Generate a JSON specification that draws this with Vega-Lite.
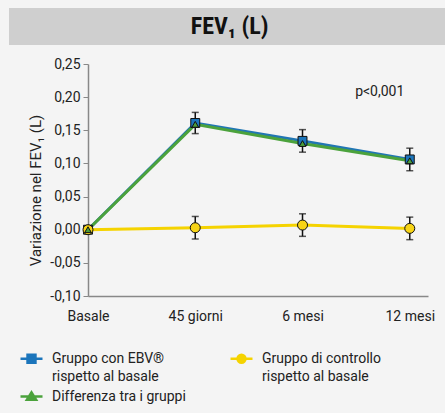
{
  "$schema": "https://vega.github.io/schema/vega-lite/v6.json",
  "background": "#f4f4f4",
  "padding": {"left": 9, "top": 8, "right": 0, "bottom": 8},
  "config": {
    "font": "Roboto",
    "locale": {"number": {"decimal": ",", "thousands": ".", "grouping": [3], "currency": ["", " €"], "minus": "-"}},
    "view": {"stroke": null}
  },
  "spacing": 12,
  "resolve": {
    "scale": {"fill": "independent", "stroke": "independent", "shape": "independent", "x": "independent"},
    "legend": {"fill": "independent", "stroke": "independent", "shape": "independent"}
  },
  "datasets": {
    "main": [
      {"series": "Gruppo con EBV® rispetto al basale", "t": 0, "v": 0},
      {"series": "Gruppo con EBV® rispetto al basale", "t": 1, "v": 0.161, "lo": 0.145, "hi": 0.177},
      {"series": "Gruppo con EBV® rispetto al basale", "t": 2, "v": 0.134, "lo": 0.117, "hi": 0.151},
      {"series": "Gruppo con EBV® rispetto al basale", "t": 3, "v": 0.106, "lo": 0.089, "hi": 0.123},
      {"series": "Gruppo di controllo rispetto al basale", "t": 0, "v": 0},
      {"series": "Gruppo di controllo rispetto al basale", "t": 1, "v": 0.003, "lo": -0.014, "hi": 0.020},
      {"series": "Gruppo di controllo rispetto al basale", "t": 2, "v": 0.007, "lo": -0.010, "hi": 0.024},
      {"series": "Gruppo di controllo rispetto al basale", "t": 3, "v": 0.002, "lo": -0.015, "hi": 0.019},
      {"series": "Differenza tra i gruppi", "t": 0, "v": 0},
      {"series": "Differenza tra i gruppi", "t": 1, "v": 0.159},
      {"series": "Differenza tra i gruppi", "t": 2, "v": 0.130},
      {"series": "Differenza tra i gruppi", "t": 3, "v": 0.104}
    ],
    "pval": [{"t": 2.72, "v": 0.208, "label": "p<0,001"}]
  },
  "vconcat": [
    {
      "width": 340,
      "height": 37,
      "data": {"values": [{"title": "FEV₁ (L)"}]},
      "layer": [
        {
          "mark": {"type": "rect", "color": "#cfcfcf", "clip": false},
          "encoding": {
            "x": {"datum": -0.7365, "type": "quantitative", "scale": {"domain": [0, 3.17], "nice": false, "zero": false}, "axis": null},
            "x2": {"datum": 3.33}
          }
        },
        {
          "mark": {"type": "text", "font": "Roboto Condensed", "fontSize": 24, "fontWeight": "bold", "color": "#111", "baseline": "middle", "align": "center"},
          "encoding": {
            "x": {"datum": 1.32, "type": "quantitative", "scale": {"domain": [0, 3.17], "nice": false, "zero": false}, "axis": null},
            "text": {"field": "title"}
          }
        }
      ]
    },
    {
      "width": 340,
      "height": 232,
      "encoding": {
        "x": {"field": "t", "type": "quantitative", "scale": {"domain": [0, 3.17], "nice": false, "zero": false},
          "axis": {"title": null, "values": [0, 1, 2, 3], "labelExpr": "['Basale','45 giorni','6 mesi','12 mesi'][datum.value]", "ticks": false, "tickSize": 0, "grid": false, "domainColor": "#888", "domainWidth": 1.5, "labelPadding": 13, "labelFontSize": 14, "labelColor": "#222", "labelFlush": false}},
        "y": {"field": "v", "type": "quantitative", "title": "Variazione nel FEV₁ (L)", "scale": {"domain": [-0.1, 0.25], "nice": false, "zero": false},
          "axis": {"values": [-0.1, -0.05, 0, 0.05, 0.1, 0.15, 0.2, 0.25], "format": ".2f", "grid": false, "domainColor": "#888", "domainWidth": 1.5, "tickColor": "#888", "tickSize": 5, "labelPadding": 3, "labelFontSize": 14, "labelColor": "#222", "titleFontSize": 15, "titleFontWeight": "normal", "titleColor": "#222", "titlePadding": 6, "titleY": 126}}
      },
      "layer": [
        {
          "data": {"name": "main"},
          "transform": [{"filter": "datum.series == 'Gruppo di controllo rispetto al basale'"}],
          "mark": {"type": "line", "color": "#f5d300", "strokeWidth": 3}
        },
        {
          "data": {"name": "main"},
          "transform": [{"filter": "datum.series == 'Gruppo con EBV® rispetto al basale'"}],
          "mark": {"type": "line", "color": "#2176b3", "strokeWidth": 3}
        },
        {
          "data": {"name": "main"},
          "transform": [{"filter": "datum.series == 'Differenza tra i gruppi'"}],
          "mark": {"type": "line", "color": "#4ba23c", "strokeWidth": 3}
        },
        {
          "data": {"name": "main"},
          "transform": [{"filter": "isValid(datum.lo)"}],
          "mark": {"type": "errorbar", "ticks": {"color": "#111", "size": 7, "thickness": 1.5}, "rule": {"color": "#111", "strokeWidth": 1.5}},
          "encoding": {
            "y": {"field": "lo", "type": "quantitative", "title": "Variazione nel FEV₁ (L)"},
            "y2": {"field": "hi"}
          }
        },
        {
          "data": {"name": "main"},
          "transform": [{"filter": "datum.series == 'Gruppo con EBV® rispetto al basale'"}],
          "mark": {"type": "square", "size": 80, "fill": "#1b75bb", "stroke": "#111", "strokeWidth": 1, "opacity": 1}
        },
        {
          "data": {"name": "main"},
          "transform": [{"filter": "datum.series == 'Gruppo di controllo rispetto al basale'"}],
          "mark": {"type": "circle", "size": 100, "fill": "#f7d417", "stroke": "#111", "strokeWidth": 1, "opacity": 1}
        },
        {
          "data": {"name": "main"},
          "transform": [{"filter": "datum.series == 'Differenza tra i gruppi'"}],
          "mark": {"type": "point", "shape": "triangle-up", "size": 45, "filled": true, "fill": "#4a9e3a", "stroke": "#111", "strokeWidth": 1, "opacity": 1}
        },
        {
          "data": {"name": "pval"},
          "mark": {"type": "text", "fontSize": 14, "color": "#222", "align": "center", "baseline": "middle"},
          "encoding": {"text": {"field": "label"}}
        },
        {
          "data": {"name": "main"},
          "transform": [{"filter": "false"}],
          "mark": {"type": "point", "filled": true, "strokeWidth": 2.5, "opacity": 1},
          "encoding": {
            "fill": {"field": "series", "type": "nominal",
              "scale": {"domain": ["Gruppo con EBV® rispetto al basale", "Gruppo di controllo rispetto al basale", "Differenza tra i gruppi"], "range": ["#1b75bb", "#f5d300", "#4ba23c"]},
              "legend": {"orient": "none", "legendX": -79, "legendY": 282, "direction": "horizontal", "columns": 2,
                "title": "\u00a0", "titleOrient": "left", "titleFontSize": 14, "titlePadding": 10,
                "symbolSize": 484, "symbolStrokeWidth": 2.5, "symbolOpacity": 1, "labelFontSize": 14, "labelColor": "#222", "labelOffset": 8, "labelLimit": 300, "columnPadding": 39, "rowPadding": 0, "labelBaseline": "top",
                "labelExpr": "indexof(datum.label, ' rispetto') > 0 ? [substring(datum.label, 0, indexof(datum.label, ' rispetto')), 'rispetto al basale'] : datum.label",
                "encode": {"labels": {"update": {"dy": {"value": -7}, "lineHeight": {"value": 18}}}}}},
            "stroke": {"field": "series", "type": "nominal",
              "scale": {"domain": ["Gruppo con EBV® rispetto al basale", "Gruppo di controllo rispetto al basale", "Differenza tra i gruppi"], "range": ["#1b75bb", "#f5d300", "#4ba23c"]}},
            "shape": {"field": "series", "type": "nominal",
              "scale": {"domain": ["Gruppo con EBV® rispetto al basale", "Gruppo di controllo rispetto al basale", "Differenza tra i gruppi"], "range": ["M-1,0H1M-0.36,-0.36H0.36V0.36H-0.36Z", "M-1,0H1M0.36,0A0.36,0.36,0,1,1,-0.36,0A0.36,0.36,0,1,1,0.36,0Z", "M-1,0H1M0,-0.38L0.42,0.3H-0.42Z"]}}
          }
        }
      ]
    }
  ]
}
